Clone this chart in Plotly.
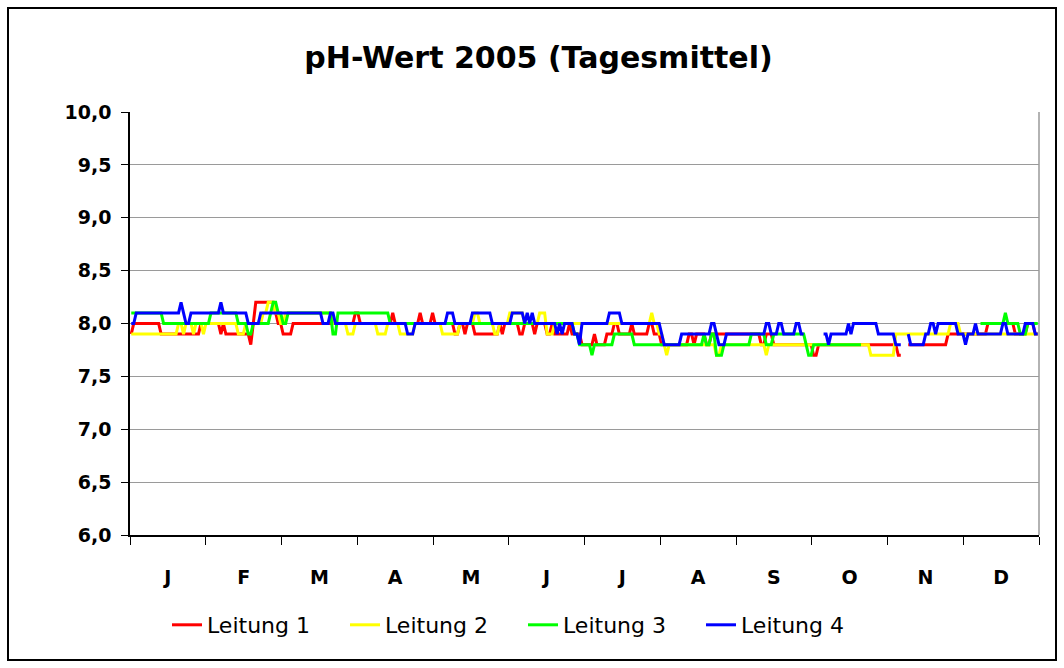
import plotly.graph_objects as go

# ---- data (run-length: day index where a new daily value starts, value; None = no data) ----
months = ["J", "F", "M", "A", "M", "J", "J", "A", "S", "O", "N", "D"]
n_days = 365

l1_start = [0, 1, 12, 28, 36, 37, 38, 48, 49, 50, 58, 59, 61, 65, 90, 92, 105, 106, 116, 117, 121, 122,
            130, 132, 134, 135, 138, 148, 149, 150, 156, 158, 162, 163, 167, 169, 170,
            175, 176, 177, 181, 186, 187, 191, 194, 196, 201, 202, 208, 210, 213,
            219, 224, 226, 227, 231, 233, 253, 255, 258, 274, 276, 308, 310, 312, 328, 344, 355, 360, 363]
l1_value = [7.9, 8.0, 7.9, 8.0, 7.9, 8.0, 7.9, 7.8, 8.0, 8.2, 8.1, 8.0, 7.9, 8.0, 8.1, 8.0, 8.1, 8.0, 8.1, 8.0, 8.1, 8.0,
            7.9, 8.0, 7.9, 8.0, 7.9, 8.0, 7.9, 8.0, 7.9, 8.0, 7.9, 8.0, 7.9, 8.0, 7.9,
            7.9, 8.0, 7.9, 7.8, 7.9, 7.8, 7.9, 8.0, 7.9, 8.0, 7.9, 8.0, 7.9, 7.8,
            7.8, 7.9, 7.8, 7.9, 7.8, 7.9, 7.8, 7.9, 7.8, 7.7, 7.8, 7.7, None, 7.8, 7.9, 8.0, 7.9, 8.0, 7.9]

l2_start = [0, 19, 21, 22, 25, 26, 29, 30, 43, 46, 53, 55, 58, 60, 62, 81, 87, 90, 99, 103, 108, 114, 125,
            132, 138, 140, 146, 148, 152, 158, 164, 167, 170, 209, 210, 212, 214, 215, 216,
            235, 237, 255, 256, 297, 307, 310, 329, 333]
l2_value = [7.9, 8.0, 7.9, 8.0, 7.9, 8.0, 7.9, 8.0, 7.9, 8.0, 8.1, 8.2, 8.1, 8.0, 8.1, 8.0, 7.9, 8.0, 7.9, 8.0, 7.9, 8.0, 7.9,
            8.0, 8.1, 8.0, 7.9, 8.0, 8.1, 8.0, 8.1, 7.9, 8.0, 8.1, 8.0, 7.9, 7.8, 7.7, 7.8,
            7.7, 7.8, 7.7, 7.8, 7.7, 7.9, 7.9, 8.0, 7.9]

l3_start = [0, 13, 32, 43, 47, 49, 56, 57, 59, 61, 63, 81, 83, 104,
            178, 180, 185, 186, 194, 202, 230, 231, 233, 235, 238, 249, 255, 258,
            271, 272, 274, 294, 341, 351, 352, 357, 360]
l3_value = [8.1, 8.0, 8.1, 8.0, 7.9, 8.0, 8.1, 8.2, 8.1, 8.0, 8.1, 7.9, 8.1, 8.0,
            7.9, 7.8, 7.7, 7.8, 7.9, 7.8, 7.9, 7.8, 7.9, 7.7, 7.8, 7.9, 7.8, 7.9,
            7.8, 7.7, 7.8, None, 8.0, 8.1, 8.0, 7.9, 8.0]

l4_start = [0, 2, 20, 21, 22, 24, 36, 37, 47, 52, 77, 80, 82, 111, 114, 127, 130, 137, 145, 153, 158, 159,
            160, 161, 162, 171, 172, 173, 174, 178, 180, 181, 192, 197, 213, 214, 221, 233, 235, 236, 239,
            255, 257, 260, 262, 267, 269, 271, 278, 280, 281, 288, 289, 290, 300, 307, 310, 312, 313,
            319, 321, 323, 324, 332, 335, 336, 339, 340, 350, 352, 359, 363]
l4_value = [8.0, 8.1, 8.2, 8.1, 8.0, 8.1, 8.2, 8.1, 8.0, 8.1, 8.0, 8.1, 8.0, 7.9, 8.0, 8.1, 8.0, 8.1, 8.0, 8.1, 8.0, 8.1,
            8.0, 8.1, 8.0, 7.9, 8.0, 7.9, 8.0, 7.9, 7.8, 8.0, 8.1, 8.0, 7.9, 7.8, 7.9, 8.0, 7.9, 7.8, 7.9,
            8.0, 7.9, 8.0, 7.9, 8.0, 7.9, None, 7.9, 7.8, 7.9, 8.0, 7.9, 8.0, 7.9, 7.8, None, 7.9, 7.8,
            7.9, 8.0, 7.9, 8.0, 7.9, 7.8, 7.9, 8.0, 7.9, 8.0, 7.9, 8.0, 7.9]

series_names = ["Leitung 1", "Leitung 2", "Leitung 3", "Leitung 4"]
series_colors = ["#FF0000", "#FFFF00", "#00FF00", "#0000FF"]
y_ticks = [6.0, 6.5, 7.0, 7.5, 8.0, 8.5, 9.0, 9.5, 10.0]


def expand(starts, values):
    out = []
    for k, s in enumerate(starts):
        e = starts[k + 1] if k + 1 < len(starts) else n_days
        out.extend([values[k]] * (e - s))
    return out


series = [expand(l1_start, l1_value), expand(l2_start, l2_value),
          expand(l3_start, l3_value), expand(l4_start, l4_value)]
days = [i + 0.5 for i in range(n_days)]
mlen = n_days / 12.0
month_mid = [(m + 0.5) * mlen for m in range(12)]
month_bounds = [m * mlen for m in range(13)]

FONT = "DejaVu Sans"
W, H = 1064, 668
L, R, T, B = 130, 1039, 112, 535

fig = go.Figure()
for name, col, ys in zip(series_names, series_colors, series):
    fig.add_trace(go.Scatter(x=days, y=ys, mode="lines", name=name,
                             line=dict(color=col, width=3), connectgaps=False))


def px(xp):
    return (xp - L) / (R - L)


def py(yp):
    return (B - yp) / (B - T)


fig.update_layout(
    width=W, height=H,
    margin=dict(l=L, r=W - R, t=T, b=H - B, autoexpand=False),
    paper_bgcolor="white", plot_bgcolor="white",
    separators=",.",
    font=dict(family=FONT, color="black"),
    title=dict(text="<b>pH-Wert 2005 (Tagesmittel)</b>", font=dict(size=30, family=FONT, color="black"),
               x=538.5 / W, xref="container", xanchor="center",
               y=1 - 57 / H, yref="container", yanchor="middle"),
    showlegend=True,
    legend=dict(orientation="h", x=px(167), xanchor="left", y=py(625), yanchor="middle",
                font=dict(size=22, family=FONT, color="black"),
                entrywidth=133, entrywidthmode="pixels", bgcolor="rgba(0,0,0,0)",
                itemclick=False, itemdoubleclick=False),
    xaxis=dict(range=[0, n_days], tickmode="array", tickvals=month_mid, ticktext=months,
               ticks="", showgrid=False, zeroline=False, showline=True, linecolor="black",
               linewidth=1.5, tickfont=dict(size=19, family=FONT, color="black", weight="bold"),
               ticklabelstandoff=24,
               minor=dict(tickmode="array", tickvals=month_bounds, ticks="outside", ticklen=8,
                          tickcolor="black", tickwidth=1.3, showgrid=False)),
    yaxis=dict(range=[6, 10], tickmode="array", tickvals=y_ticks, tickformat=".1f",
               ticks="outside", ticklen=7, tickcolor="black", tickwidth=1.3,
               showgrid=True, gridcolor="#9a9a9a", gridwidth=1, zeroline=False,
               showline=True, linecolor="black", linewidth=1.5,
               tickfont=dict(size=19, family=FONT, color="black", weight="bold"), ticklabelstandoff=6),
)

# plot-area right border (grey) and outer chart frame
fig.add_shape(type="line", xref="paper", yref="paper", x0=1, x1=1, y0=0, y1=1,
              line=dict(color="#9a9a9a", width=1.5))
fig.add_shape(type="rect", xref="paper", yref="paper", x0=px(8), x1=px(1056), y0=py(660), y1=py(8),
              line=dict(color="black", width=2), fillcolor="rgba(0,0,0,0)", layer="below")

fig.write_html("out.html", config={"displayModeBar": False},
               post_script="document.body.style.margin='0';document.body.style.overflow='hidden';")
